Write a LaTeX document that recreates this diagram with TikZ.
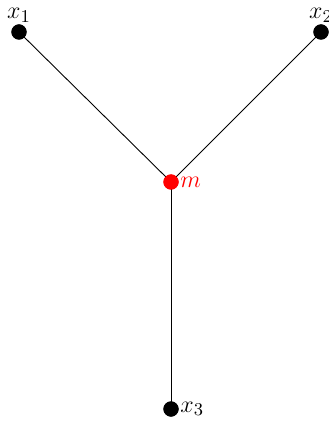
\documentclass[tikz,border=0pt]{standalone}
\begin{document}
\begin{tikzpicture}[x=0.5pt,y=-0.5pt,
  dot/.style={circle,fill=black,inner sep=0pt,minimum size=7.6pt},
  reddot/.style={circle,fill=red,inner sep=0pt,minimum size=7.6pt},
  lbl/.style={inner sep=0.5pt,font=\fontsize{13}{16}\selectfont},
  edge/.style={draw=black,line width=0.45pt}]
\useasboundingbox (0,0) rectangle (328,422);
\node[dot] (x1) at (19,32) {};
\node[dot] (x2) at (321,32) {};
\node[reddot] (m) at (171,182) {};
\node[dot] (x3) at (171,409) {};
\draw[edge] (x1.center) -- (m.center);
\draw[edge] (x2.center) -- (m.center);
\draw[edge] (x3.center) -- (m.center);
\node[dot] at (x1) {};
\node[dot] at (x2) {};
\node[dot] at (x3) {};
\node[reddot] at (m) {};
\node[lbl,anchor=south] (l1) at (x1.north) {$x_1$};
\node[lbl,anchor=south] (l2) at (x2.north) {$x_2$};
\node[lbl,anchor=west,text=red] (lm) at (m.east) {$m$};
\node[lbl,anchor=west] (l3) at (x3.east) {$x_3$};
\end{tikzpicture}
\end{document}
